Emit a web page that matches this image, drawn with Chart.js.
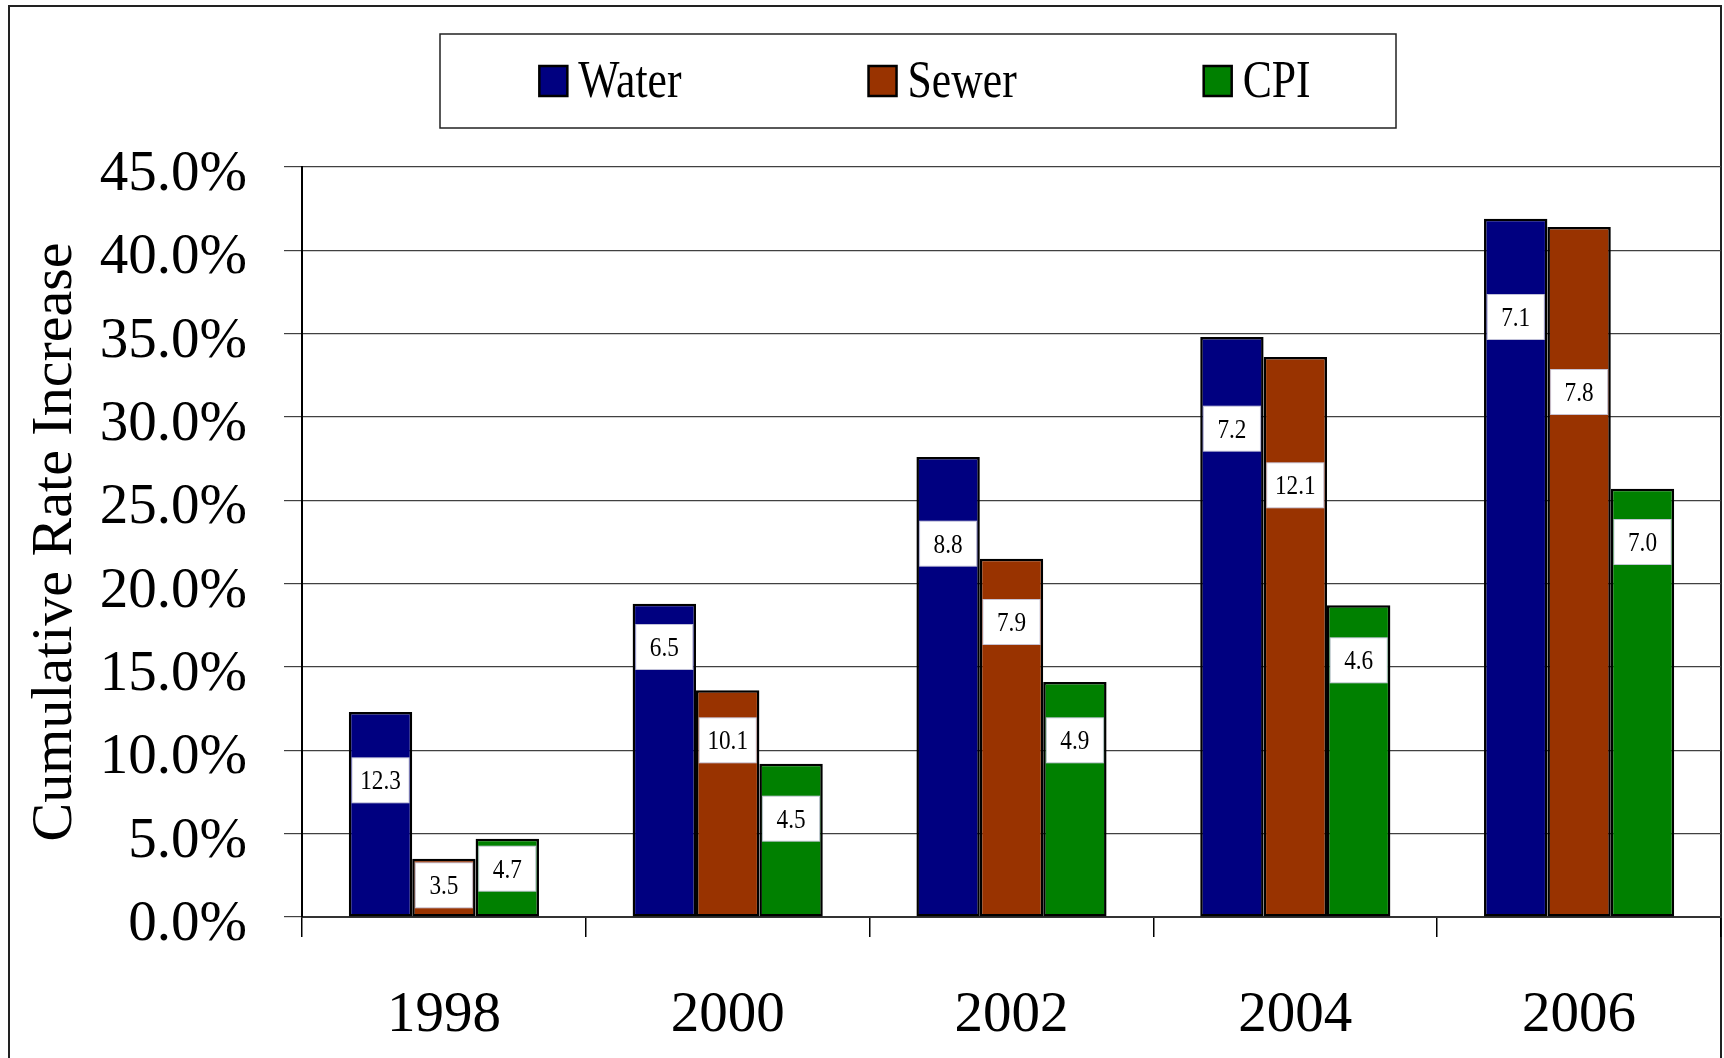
<!DOCTYPE html>
<html>
<head>
<meta charset="utf-8">
<script src="https://cdn.jsdelivr.net/npm/chart.js@4.4.1/dist/chart.umd.min.js"></script>
<style>
  body { margin: 0; background: #fff; }
  canvas { display: block; }
</style>
</head>
<body>
<canvas id="myChart" width="1724" height="1058"></canvas>
<script>
const years = ['1998', '2000', '2002', '2004', '2006'];

// bar heights: cumulative rate increase, %
const water = [12.3, 18.8, 27.6, 34.8, 41.9];
const sewer = [3.5, 13.6, 21.5, 33.6, 41.4];
const cpi = [4.7, 9.2, 14.1, 18.7, 25.7];

// numbers printed in the white boxes (increase for the period)
const waterStep = [12.3, 6.5, 8.8, 7.2, 7.1];
const sewerStep = [3.5, 10.1, 7.9, 12.1, 7.8];
const cpiStep = [4.7, 4.5, 4.9, 4.6, 7.0];

const seriesNames = ['Water', 'Sewer', 'CPI'];
const seriesColors = ['#000080', '#993300', '#008000'];

const serif = "'Liberation Serif', 'Times New Roman', serif";

// white frame round the whole picture
const framePlugin = {
    id: 'frame',
    beforeDraw(chart) {
        const ctx = chart.ctx;
        ctx.save();
        ctx.fillStyle = '#fff';
        ctx.fillRect(0, 0, chart.width, chart.height);
        ctx.strokeStyle = '#222';
        ctx.lineWidth = 2;
        ctx.strokeRect(9, 6, chart.chartArea.right - 9, chart.height + 20);
        ctx.restore();
    }
};

// boxed legend at the top
const boxLegendPlugin = {
    id: 'boxLegend',
    afterDraw(chart, args, opts) {
        const ctx = chart.ctx;
        const box = opts.box;
        ctx.save();
        ctx.strokeStyle = '#222';
        ctx.lineWidth = 1.5;
        ctx.strokeRect(box.x, box.y, box.w, box.h);

        ctx.font = opts.fontSize + 'px ' + serif;
        const sq = opts.square;
        const items = chart.data.datasets.map(ds => {
            const tw = ctx.measureText(ds.label).width * opts.squeeze;
            return { ds, w: sq.w + opts.textGap + tw };
        });
        const total = items.reduce((s, it) => s + it.w, 0) + opts.itemGap * (items.length - 1);
        let x = box.x + box.w / 2 - total / 2 + opts.shift;
        const cy = box.y + box.h / 2;
        items.forEach(it => {
            ctx.fillStyle = it.ds.backgroundColor;
            ctx.fillRect(x, cy - sq.h / 2, sq.w, sq.h);
            ctx.strokeStyle = '#000';
            ctx.lineWidth = 2.5;
            ctx.strokeRect(x, cy - sq.h / 2, sq.w, sq.h);

            ctx.save();
            ctx.translate(x + sq.w + opts.textGap, cy + opts.baseline);
            ctx.scale(opts.squeeze, 1);
            ctx.fillStyle = '#000';
            ctx.textBaseline = 'alphabetic';
            ctx.fillText(it.ds.label, 0, 0);
            ctx.restore();

            x += it.w + opts.itemGap;
        });
        ctx.restore();
    }
};

// white value boxes on the bars
const valueBoxPlugin = {
    id: 'valueBoxes',
    afterDatasetsDraw(chart, args, opts) {
        const ctx = chart.ctx;
        const yScale = chart.scales.y;
        ctx.save();
        ctx.font = opts.fontSize + 'px ' + serif;
        chart.data.datasets.forEach((ds, i) => {
            const meta = chart.getDatasetMeta(i);
            meta.data.forEach((bar, j) => {
                const cx = bar.x;
                const cy = yScale.getPixelForValue(opts.at[i][j]);
                ctx.fillStyle = '#fff';
                ctx.fillRect(cx - opts.w / 2, cy - opts.h / 2, opts.w, opts.h);
                ctx.strokeStyle = 'rgba(200,200,220,0.9)';
                ctx.lineWidth = 1;
                ctx.strokeRect(cx - opts.w / 2, cy - opts.h / 2, opts.w, opts.h);

                const txt = ds.steps[j].toFixed(1);
                const tw = ctx.measureText(txt).width * opts.squeeze;
                ctx.save();
                ctx.translate(cx - tw / 2, cy + opts.baseline);
                ctx.scale(opts.squeeze, 1);
                ctx.fillStyle = '#000';
                ctx.textBaseline = 'alphabetic';
                ctx.fillText(txt, 0, 0);
                ctx.restore();
            });
        });
        ctx.restore();
    }
};

const ctx = document.getElementById('myChart');

new Chart(ctx, {
    type: 'bar',
    data: {
        labels: years,
        datasets: [
            { label: seriesNames[0], data: water, steps: waterStep, backgroundColor: seriesColors[0] },
            { label: seriesNames[1], data: sewer, steps: sewerStep, backgroundColor: seriesColors[1] },
            { label: seriesNames[2], data: cpi, steps: cpiStep, backgroundColor: seriesColors[2] }
        ].map(ds => Object.assign(ds, {
            borderColor: '#000',
            borderWidth: 2.5,
            borderSkipped: false,
            categoryPercentage: 0.67,
            barPercentage: 1.0
        }))
    },
    plugins: [framePlugin, valueBoxPlugin, boxLegendPlugin],
    options: {
        responsive: false,
        animation: false,
        devicePixelRatio: 1,
        layout: { padding: { top: 167, right: 3, left: 0, bottom: 0 } },
        plugins: {
            legend: { display: false },
            tooltip: { enabled: false },
            boxLegend: {
                box: { x: 440, y: 34, w: 956, h: 94 },
                fontSize: 52,
                squeeze: 0.84,
                baseline: 16,
                square: { w: 28, h: 30 },
                textGap: 11,
                itemGap: 187,
                shift: 7
            },
            valueBoxes: {
                // value level (in %) where each box sits, per series
                at: [
                    [8.2, 16.2, 22.4, 29.3, 36.0],
                    [1.9, 10.6, 17.7, 25.9, 31.5],
                    [2.9, 5.9, 10.6, 15.4, 22.5]
                ],
                w: 57,
                h: 45,
                fontSize: 27,
                squeeze: 0.86,
                baseline: 9
            }
        },
        scales: {
            x: {
                afterFit(scale) { scale.height = 141; },
                grid: {
                    display: true,
                    drawOnChartArea: false,
                    drawTicks: true,
                    tickLength: 20,
                    offset: true,
                    color: '#000',
                    lineWidth: 1.5
                },
                border: { color: '#333', width: 2 },
                ticks: {
                    color: '#000',
                    padding: 45,
                    font: { family: serif, size: 57 }
                }
            },
            y: {
                min: 0,
                max: 45,
                afterFit(scale) { scale.width = 302; },
                grid: {
                    color: '#404040',
                    lineWidth: 1.2,
                    tickLength: 18,
                    drawTicks: true
                },
                border: { color: '#000', width: 2 },
                ticks: {
                    stepSize: 5,
                    color: '#000',
                    padding: 37,
                    labelOffset: 8,
                    font: { family: serif, size: 57 },
                    callback: v => v.toFixed(1) + '%'
                },
                title: {
                    display: true,
                    text: 'Cumulative Rate Increase',
                    color: '#000',
                    font: { family: serif, size: 58 },
                    padding: { top: 21, bottom: 0 }
                }
            }
        }
    }
});
</script>
</body>
</html>
